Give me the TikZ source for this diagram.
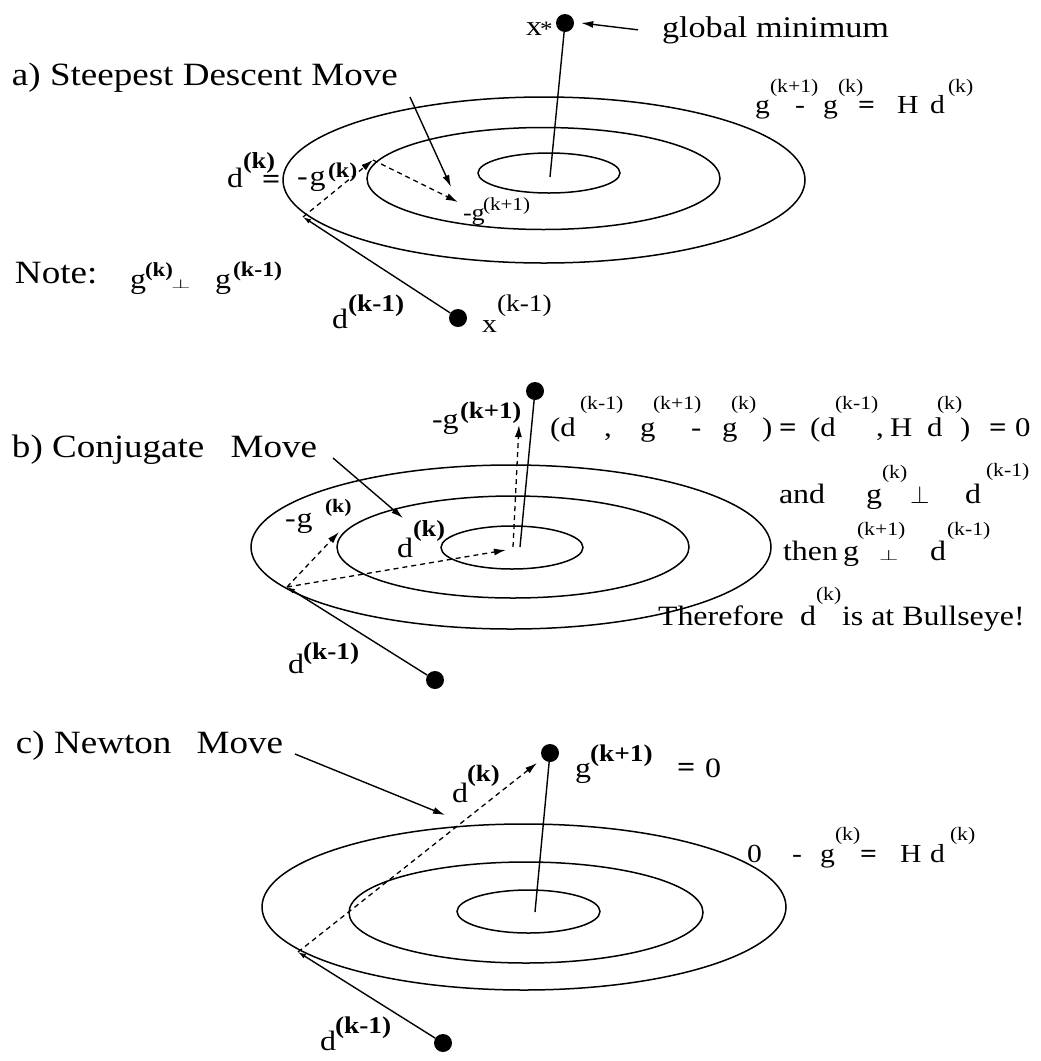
\documentclass[tikz,border=0pt]{standalone}
\usepackage{fontspec}
\setmainfont{Liberation Serif}[FakeStretch=1.14]
\usepackage{graphicx}
\usetikzlibrary{arrows.meta}
\newcommand\fsz[1]{\fontsize{#1}{#1}\selectfont}
\begin{document}
\begin{tikzpicture}[x=1pt,y=-1pt,
  lbl/.style={anchor=base west,inner sep=0pt,outer sep=0pt},
  ttl/.style={lbl,font=\fsz{32.5}},
  eqf/.style={lbl,font=\fsz{26}},
  eqs/.style={lbl,font=\fsz{19}},
  lab/.style={lbl,font=\fsz{28}},
  bsup/.style={lbl,font=\fsz{#1}\bfseries},
  rsup/.style={lbl,font=\fsz{#1}},
  contour/.style={line width=1.5pt},
  conn/.style={line width=1.4pt},
  dashconn/.style={line width=1.3pt,dash pattern=on 5pt off 4pt},
  tip/.style={-{Latex[length=12pt,width=7pt]}},
  smalltip/.style={-{Latex[length=8pt,width=5pt,open]}},
  dotnode/.style={circle,fill=black,inner sep=0pt,minimum size=18pt}]
\fill[white] (0,0) rectangle (1041,1061);
\useasboundingbox (0,0) rectangle (1041,1061);

% ================= Panel a =================
\draw[contour] (544,180) ellipse [x radius=261pt, y radius=83pt];
\draw[contour] (543.5,178.5) ellipse [x radius=176.5pt, y radius=51pt];
\draw[contour] (549,173) ellipse [x radius=71pt, y radius=20pt];

\node[ttl] (ta) at (12,85) {a) Steepest Descent Move};
\node[dotnode] (xstar) at (565,23) {};
\coordinate (ca) at (550,177);
\draw[conn] (ca) -- (xstar);
\node[lbl,font=\fsz{28}] (xs) at (526,35) {x};
\node[lbl,font=\fsz{22}] (xss) at (540,36) {*};
\node[lbl,font=\fsz{30}] (gm) at (662,37) {global minimum};
\draw[conn,tip] ([xshift=-24pt]gm.west) -- ([xshift=7pt]xstar.east);

\node[eqf] (ea1) at (755,113) {g};
\node[eqs] (ea2) at (770,92) {(k+1)};
\node[eqf] (ea3) at (795,113) {-};
\node[eqf] (ea4) at (823,113) {g};
\node[eqs] (ea5) at (838,92) {(k)};
\node[eqf,font=\fsz{26}\bfseries] (ea6) at (858,113) {=};
\node[eqf] (ea7) at (897,113) {H};
\node[eqf] (ea8) at (930,113) {d};
\node[eqs] (ea9) at (948,92) {(k)};

\coordinate (sdtail) at (410,97);
\coordinate (sdtip) at (451,187);
\draw[conn,tip] (sdtail) -- (sdtip);

\node[dotnode] (xk1) at (458,318) {};
\coordinate (Pa) at (303,217);
\coordinate (Qa) at (373,160);
\coordinate (Ra) at (458,202);
\draw[conn,smalltip] (xk1) -- (Pa);
\draw[dashconn,tip] (Pa) -- (Qa);
\draw[dashconn,tip] (Qa) -- (Ra);

\node[lab] (la1) at (227,187) {d};
\node[bsup=23] (la2) at (243,168) {(k)};
\node[lab,font=\fsz{28}\bfseries] (la3) at (262,188) {=};
\node[lab] (la4) at (297,185) {-\kern2pt g};
\node[bsup=21] (la5) at (328,177) {(k)};
\node[lbl,font=\fsz{23}] (la6) at (463,220) {-g};
\node[rsup=18.5] (la7) at (483,210) {(k+1)};
\node[lab] (la8) at (332,328) {d};
\node[bsup=24] (la9) at (348,311) {(k-1)};
\node[lbl,font=\fsz{26}] (la10) at (482,332) {x};
\node[rsup=24] (la11) at (497,311) {(k-1)};

\node[ttl] (note) at (15,283) {Note:};
\node[lab] (n1) at (130,288) {g};
\node[bsup=20] (n2) at (145,276) {(k)};
\node[lbl,font=\fsz{30}] (n3) at (171,288) {\scalebox{1}[0.52]{$\perp$}};
\node[lab] (n4) at (215,288) {g};
\node[bsup=21] (n5) at (233,276) {(k-1)};

% ================= Panel b =================
\draw[contour] (511,547) ellipse [x radius=260pt, y radius=82pt];
\draw[contour] (513,547) ellipse [x radius=176pt, y radius=51pt];
\draw[contour] (512,547.5) ellipse [x radius=71pt, y radius=21.5pt];

\node[ttl] (tb) at (12,457) {b) Conjugate\hspace{17pt} Move};
\coordinate (cmtail) at (333,458);
\coordinate (cmtip) at (403,518);
\draw[conn,tip] (cmtail) -- (cmtip);

\node[dotnode] (bstar) at (535,391) {};
\coordinate (cb) at (520,547);
\draw[conn] (cb) -- (bstar);
\coordinate (vb0) at (513,547);
\coordinate (vb1) at (519,425);
\draw[dashconn,tip] (vb0) -- (vb1);

\node[dotnode] (bk1) at (435,680) {};
\coordinate (Pb) at (287,587);
\coordinate (Qb) at (339,532);
\coordinate (Rb) at (506,550);
\draw[conn,smalltip] (bk1) -- (Pb);
\draw[dashconn,tip] (Pb) -- (Qb);
\draw[dashconn,tip] (Pb) -- (Rb);

\node[lab] (lb1) at (285,527) {-\kern1pt g};
\node[bsup=19] (lb2) at (325,512) {(k)};
\node[lab] (lb3) at (397,557) {d};
\node[bsup=23] (lb4) at (413,536) {(k)};
\node[lab] (lb5) at (432,428) {-g};
\node[bsup=23.5] (lb6) at (460,418) {(k+1)};
\node[lab] (lb7) at (288,673) {d};
\node[bsup=24] (lb8) at (303,659) {(k-1)};

\node[lbl,font=\fsz{27}] (eb1) at (550,436) {(d};
\node[rsup=19] (eb2) at (580,409) {(k-1)};
\node[lbl,font=\fsz{27}] (eb3) at (604,436) {,};
\node[lbl,font=\fsz{27}] (eb4) at (640,436) {g};
\node[rsup=19] (eb5) at (653,409) {(k+1)};
\node[lbl,font=\fsz{27}] (eb6) at (691,436) {-};
\node[lbl,font=\fsz{27}] (eb7) at (722,436) {g};
\node[rsup=19] (eb8) at (731,409) {(k)};
\node[lbl,font=\fsz{27}] (eb9) at (762,436) {)};
\node[lbl,font=\fsz{27}\bfseries] (eb10) at (779,436) {=};
\node[lbl,font=\fsz{27}] (eb11) at (810,436) {(d};
\node[rsup=19] (eb12) at (835,409) {(k-1)};
\node[lbl,font=\fsz{27}] (eb13) at (876,436) {,};
\node[lbl,font=\fsz{27}] (eb14) at (890,436) {H};
\node[lbl,font=\fsz{27}] (eb15) at (927,436) {d};
\node[rsup=19] (eb16) at (937,409) {(k)};
\node[lbl,font=\fsz{27}] (eb17) at (960,436) {)};
\node[lbl,font=\fsz{27}\bfseries] (eb18) at (989,436) {=};
\node[lbl,font=\fsz{27}] (eb19) at (1015,436) {0};

\node[lab] (an1) at (779,503) {and};
\node[lab] (an2) at (866,503) {g};
\node[rsup=19] (an3) at (882,478) {(k)};
\node[lbl,font=\fsz{37}] (an4) at (910,503) {$\perp$};
\node[lab] (an5) at (965,503) {d};
\node[rsup=19] (an6) at (986,476) {(k-1)};

\node[lab] (th1) at (783,560) {then};
\node[lab] (th2) at (843,560) {g};
\node[rsup=19] (th3) at (857,535) {(k+1)};
\node[lbl,font=\fsz{28}] (th4) at (879,560) {\scalebox{1}[0.6]{$\perp$}};
\node[lab] (th5) at (930,560) {d};
\node[rsup=19] (th6) at (947,535) {(k-1)};

\node[lab] (tf1) at (658,625) {Therefore};
\node[lab] (tf2) at (800,625) {d};
\node[rsup=19] (tf3) at (816,600) {(k)};
\node[lab] (tf4) at (842,625) {is at Bullseye!};

% ================= Panel c =================
\draw[contour] (524,907) ellipse [x radius=262pt, y radius=83pt];
\draw[contour] (526,912.5) ellipse [x radius=177pt, y radius=50.5pt];
\draw[contour] (528.5,911.5) ellipse [x radius=71.5pt, y radius=21.5pt];

\node[ttl] (tc) at (16,753) {c) Newton\hspace{16pt} Move};
\coordinate (nmtail) at (295,754);
\coordinate (nmtip) at (445,815);
\draw[conn,tip] (nmtail) -- (nmtip);

\node[dotnode] (cstar) at (550,753) {};
\coordinate (cc) at (535,912);
\draw[conn] (cc) -- (cstar);

\node[dotnode] (ck1) at (443,1043) {};
\coordinate (Pc) at (298,952);
\coordinate (Qc) at (537,763);
\draw[conn,smalltip] (ck1) -- (Pc);
\draw[dashconn,tip] (Pc) -- (Qc);

\node[lab] (lc1) at (452,802) {d};
\node[bsup=23.5] (lc2) at (467,781) {(k)};
\node[lab] (lc3) at (575,777) {g};
\node[bsup=24] (lc4) at (590,761) {(k+1)};
\node[lab,font=\fsz{28}\bfseries] (lc5) at (677,776) {=};
\node[lab] (lc6) at (705,777) {0};
\node[lab] (lc7) at (320,1050) {d};
\node[bsup=24] (lc8) at (335,1033) {(k-1)};

\node[eqf] (ec1) at (747,862) {0};
\node[eqf] (ec2) at (792,862) {-};
\node[eqf] (ec3) at (820,862) {g};
\node[eqs] (ec4) at (835,840) {(k)};
\node[eqf,font=\fsz{26}\bfseries] (ec5) at (860,862) {=};
\node[eqf] (ec6) at (900,862) {H};
\node[eqf] (ec7) at (930,862) {d};
\node[eqs] (ec8) at (950,840) {(k)};
\end{tikzpicture}
\end{document}
